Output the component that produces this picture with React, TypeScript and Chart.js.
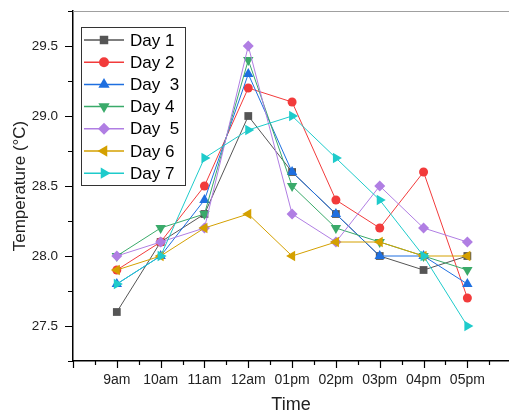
import React, { useEffect, useRef } from 'react';
import { Chart, registerables } from 'chart.js';

Chart.register(...registerables);

const timeLabels = ['9am', '10am', '11am', '12am', '01pm', '02pm', '03pm', '04pm', '05pm'];
const day1 = [27.6, 28.1, 28.3, 29.0, 28.6, 28.3, 28.0, 27.9, 28.0];
const day2 = [27.9, 28.1, 28.5, 29.2, 29.1, 28.4, 28.2, 28.6, 27.7];
const day3 = [27.8, 28.0, 28.4, 29.3, 28.6, 28.3, 28.0, 28.0, 27.8];
const day4 = [28.0, 28.2, 28.3, 29.4, 28.5, 28.2, 28.1, 28.0, 27.9];
const day5 = [28.0, 28.1, 28.2, 29.5, 28.3, 28.1, 28.5, 28.2, 28.1];
const day6 = [27.9, 28.0, 28.2, 28.3, 28.0, 28.1, 28.1, 28.0, 28.0];
const day7 = [27.8, 28.0, 28.7, 28.9, 29.0, 28.7, 28.4, 28.0, 27.5];
const seriesNames = ['Day 1', 'Day 2', 'Day  3', 'Day 4', 'Day  5', 'Day 6', 'Day 7'];
const seriesValues = [day1, day2, day3, day4, day5, day6, day7];
const yMajorTicks = [27.5, 28.0, 28.5, 29.0, 29.5];
const yMinorTicks = [27.25, 27.75, 28.25, 28.75, 29.25, 29.75];

const colors = ['#555555', '#F23B3B', '#1E6FE0', '#3AAA6A', '#B07EE3', '#D4A000', '#1ECBCB'];
const pointStyles = ['rect', 'circle', 'triangle', 'triangle', 'rectRot', 'triangle', 'triangle'];
const rotations = [0, 0, 0, 180, 0, 270, 90];
const radii = [5.5, 4.5, 6, 6, 5.5, 6, 6];

const FONT = "'Liberation Sans', Arial, sans-serif";

function drawMarker(ctx: CanvasRenderingContext2D, style: string, x: number, y: number, r: number, rotDeg: number, color: string) {
  ctx.save();
  ctx.fillStyle = color;
  ctx.beginPath();
  let rad = (rotDeg * Math.PI) / 180;
  if (style === 'circle') {
    ctx.arc(x, y, r, 0, Math.PI * 2);
  } else if (style === 'rect') {
    const s = Math.SQRT1_2 * r;
    ctx.rect(x - s, y - s, 2 * s, 2 * s);
  } else if (style === 'rectRot') {
    ctx.moveTo(x, y - r);
    ctx.lineTo(x + r, y);
    ctx.lineTo(x, y + r);
    ctx.lineTo(x - r, y);
    ctx.closePath();
  } else {
    for (let k = 0; k < 3; k++) {
      const px = x + Math.sin(rad) * r;
      const py = y - Math.cos(rad) * r;
      if (k === 0) ctx.moveTo(px, py);
      else ctx.lineTo(px, py);
      rad += (2 * Math.PI) / 3;
    }
    ctx.closePath();
  }
  ctx.fill();
  ctx.restore();
}

const decorPlugin = {
  id: 'decor',
  afterDraw(chart: any) {
    const ctx: CanvasRenderingContext2D = chart.ctx;
    const { left, right, top, bottom } = chart.chartArea;
    const xs = chart.scales.x;
    const ys = chart.scales.y;
    ctx.save();
    // top frame line
    ctx.strokeStyle = '#a0a0a0';
    ctx.lineWidth = 1;
    ctx.beginPath();
    ctx.moveTo(left - 5, top + 0.5);
    ctx.lineTo(right, top + 0.5);
    ctx.stroke();

    // tick marks
    ctx.strokeStyle = '#000';
    ctx.lineWidth = 1.2;
    ctx.beginPath();
    yMajorTicks.forEach((v) => {
      const py = Math.round(ys.getPixelForValue(v)) + 0.5;
      ctx.moveTo(left, py);
      ctx.lineTo(left - 8, py);
    });
    yMinorTicks.forEach((v) => {
      const py = Math.round(ys.getPixelForValue(v)) + 0.5;
      ctx.moveTo(left, py);
      ctx.lineTo(left - 5, py);
    });
    for (let i = -1; i < timeLabels.length; i++) {
      const px = Math.round(xs.getPixelForValue(i)) + 0.5;
      ctx.moveTo(px, bottom);
      ctx.lineTo(px, bottom + 7);
      const pm = Math.round(xs.getPixelForValue(i + 0.5)) + 0.5;
      if (pm <= right) {
        ctx.moveTo(pm, bottom);
        ctx.lineTo(pm, bottom + 4);
      }
    }
    ctx.stroke();

    // legend
    const bx = 81, by = 27, bw = 104, bh = 158;
    ctx.fillStyle = '#fff';
    ctx.fillRect(bx, by, bw, bh);
    ctx.strokeStyle = '#333';
    ctx.lineWidth = 1;
    ctx.strokeRect(bx + 0.5, by + 0.5, bw, bh);
    ctx.font = `17px ${FONT}`;
    ctx.textBaseline = 'middle';
    ctx.textAlign = 'left';
    seriesNames.forEach((name, i) => {
      const cy = 40 + i * 22.2;
      ctx.strokeStyle = colors[i];
      ctx.lineWidth = 1.5;
      ctx.beginPath();
      ctx.moveTo(84, cy);
      ctx.lineTo(124, cy);
      ctx.stroke();
      drawMarker(ctx, pointStyles[i], 104, cy, radii[i] + 0.5, rotations[i], colors[i]);
      ctx.fillStyle = '#000';
      ctx.fillText(name, 130, cy + 1);
    });
    ctx.restore();
  },
};

export default function App() {
  const canvasRef = useRef<HTMLCanvasElement | null>(null);

  useEffect(() => {
    if (!canvasRef.current) return;
    const datasets = seriesValues.map((vals, i) => ({
      label: seriesNames[i],
      data: vals.map((v, j) => ({ x: j, y: v })),
      borderColor: colors[i],
      backgroundColor: colors[i],
      borderWidth: 1,
      pointStyle: pointStyles[i],
      rotation: rotations[i],
      pointRadius: radii[i],
      pointBorderWidth: 0,
      pointBackgroundColor: colors[i],
      pointBorderColor: colors[i],
      tension: 0,
      order: seriesValues.length - i,
      clip: false,
    }));
    const chart = new Chart(canvasRef.current, {
      type: 'line',
      data: { datasets },
      options: {
        responsive: false,
        maintainAspectRatio: false,
        animation: false,
        layout: { autoPadding: false, padding: { top: 11, left: 0, right: 0, bottom: 0 } },
        plugins: { legend: { display: false }, tooltip: { enabled: false } },
        scales: {
          x: {
            type: 'linear',
            min: -1,
            max: 8.95,
            afterFit: (s: any) => {
              s.height = 53;
              s.paddingLeft = 0;
              s.paddingRight = 0;
            },
            afterBuildTicks: (s: any) => {
              s.ticks = timeLabels.map((_, i) => ({ value: i }));
            },
            ticks: {
              callback: (v: any) => timeLabels[v] ?? '',
              font: { family: FONT, size: 14 },
              color: '#222',
              padding: 11,
              autoSkip: false,
              maxRotation: 0,
            },
            grid: { display: true, drawOnChartArea: false, drawTicks: false },
            border: { display: true, color: '#000', width: 1.5 },
            title: {
              display: true,
              text: 'Time',
              color: '#222',
              font: { family: FONT, size: 18, lineHeight: 1 },
              padding: { top: 0, bottom: 0 },
            },
          },
          y: {
            type: 'linear',
            min: 27.25,
            max: 29.75,
            afterFit: (s: any) => {
              s.width = 73;
              s.paddingTop = 0;
              s.paddingBottom = 0;
            },
            afterBuildTicks: (s: any) => {
              s.ticks = yMajorTicks.map((v) => ({ value: v }));
            },
            ticks: {
              callback: (v: any) => Number(v).toFixed(1),
              font: { family: FONT, size: 13.5 },
              color: '#222',
              padding: 15,
            },
            grid: { display: true, drawOnChartArea: false, drawTicks: false },
            border: { display: true, color: '#000', width: 1.5 },
            title: {
              display: true,
              text: 'Temperature (°C)',
              color: '#222',
              font: { family: FONT, size: 17, lineHeight: 1.2 },
              padding: { top: 10, bottom: 0 },
            },
          },
        },
      },
      plugins: [decorPlugin],
    });
    return () => chart.destroy();
  }, []);

  return (
    <div style={{ position: 'absolute', left: 0, top: 0, width: 509, height: 414, background: '#fff' }}>
      <canvas ref={canvasRef} width={509} height={414} />
    </div>
  );
}
